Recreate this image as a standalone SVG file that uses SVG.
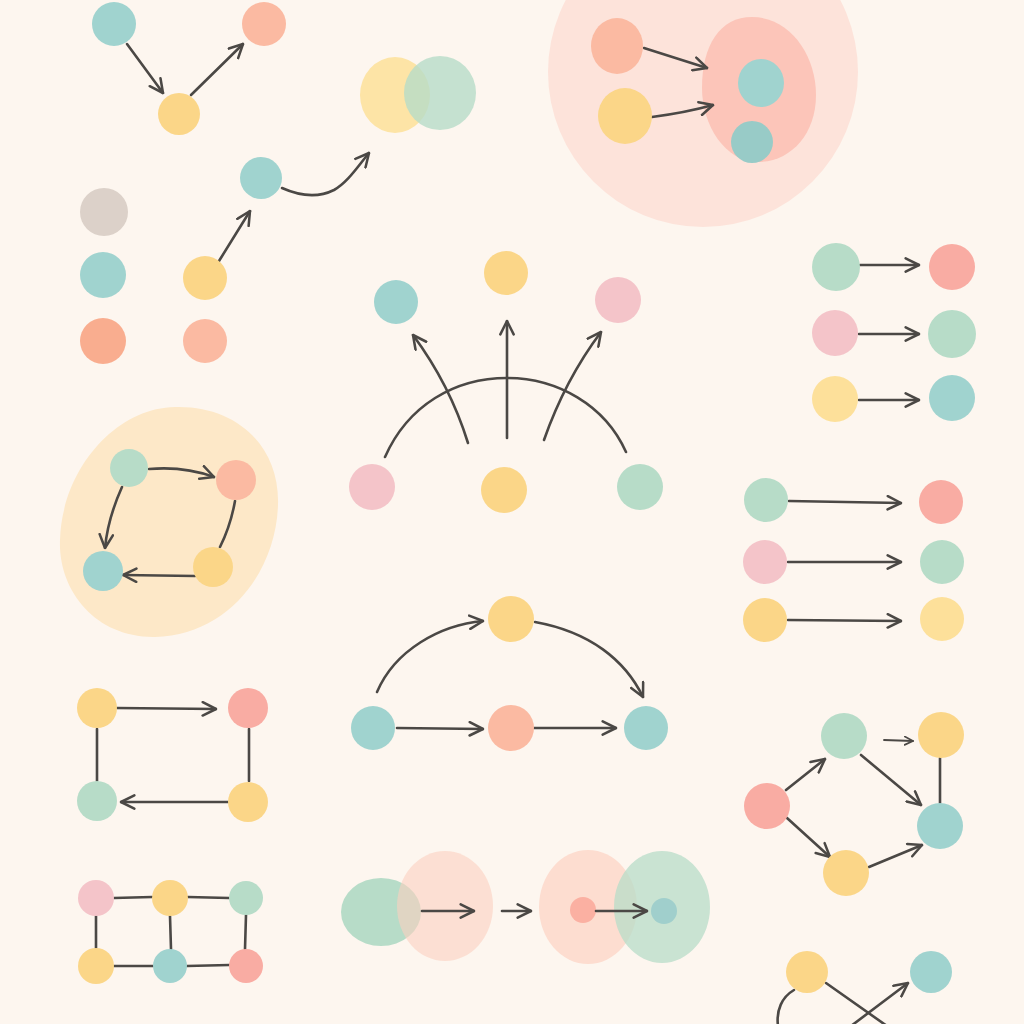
<svg xmlns="http://www.w3.org/2000/svg" width="1024" height="1024" viewBox="0 0 1024 1024">
<defs>
<marker id="ah" viewBox="0 0 12 12" refX="11" refY="6" markerUnits="userSpaceOnUse" markerWidth="16" markerHeight="16" orient="auto">
<path d="M1,1 L11,6 L1,11" fill="none" stroke="#4b4845" stroke-width="1.9" stroke-linecap="round" stroke-linejoin="round"/>
</marker>
<marker id="ahs" viewBox="0 0 12 12" refX="11" refY="6" markerUnits="userSpaceOnUse" markerWidth="10" markerHeight="10" orient="auto">
<path d="M1,1 L11,6 L1,11" fill="none" stroke="#4b4845" stroke-width="2" stroke-linecap="round" stroke-linejoin="round"/>
</marker>
</defs>
<style>
.teal{fill:#a0d3cf}
.salmon{fill:#fbbaa2}
.yellow{fill:#fbd688}
.green{fill:#b7dcc8}
.pink{fill:#f4c4c9}
.orange{fill:#f9ad8f}
.grey{fill:#dcd1c9}
.red{fill:#f9aca3}
.e{fill:none;stroke:#4b4845;stroke-width:2.6;stroke-linecap:round}
.a{marker-end:url(#ah)}
</style>
<rect width="1024" height="1024" fill="#fdf6ef"/>

<g id="cluster-backgrounds">
<ellipse cx="703" cy="72" rx="155" ry="155" fill="#fde3da"/>
<path d="M752,17 C790,17 816,55 816,95 C816,135 790,162 758,162 C725,162 702,125 702,88 C702,45 720,17 752,17 Z" fill="#fcc5b9"/>
<path d="M175,407 C235,405 280,445 278,505 C276,570 230,635 155,637 C95,638 58,590 60,540 C62,470 115,408 175,407 Z" fill="#fde8c8"/>
</g>

<g id="connectors">
<line class="e a" x1="127" y1="44" x2="163" y2="93"/>
<line class="e a" x1="191" y1="95" x2="243" y2="44"/>
<path class="e a" d="M282,188 C300,196 318,198 334,190 C348,182 358,166 369,153"/>
<line class="e a" x1="219" y1="261" x2="250" y2="211"/>
<line class="e a" x1="644" y1="48" x2="707" y2="68"/>
<path class="e a" d="M652,117 C675,114 695,110 713,105"/>
<line class="e a" x1="860" y1="265" x2="919" y2="265"/>
<line class="e a" x1="859" y1="334" x2="919" y2="334"/>
<line class="e a" x1="859" y1="400" x2="919" y2="400"/>
<path class="e" d="M385,457 C408,405 455,378 507,378 C557,378 605,405 626,452"/>
<path class="e a" d="M468,443 Q450,385 413,335"/>
<line class="e a" x1="507" y1="438" x2="507" y2="321"/>
<path class="e a" d="M544,440 Q565,380 601,332"/>
<path class="e a" d="M149,469 C172,467 195,470 214,477"/>
<path class="e" d="M235,501 C232,518 227,533 220,547"/>
<line class="e a" x1="195" y1="576" x2="123" y2="575"/>
<path class="e a" d="M122,487 C113,507 107,527 105,548"/>
<line class="e a" x1="117" y1="708" x2="216" y2="709"/>
<line class="e" x1="249" y1="729" x2="249" y2="781"/>
<line class="e a" x1="228" y1="802" x2="121" y2="802"/>
<line class="e" x1="97" y1="729" x2="97" y2="781"/>
<line class="e" x1="114" y1="898" x2="152" y2="897"/>
<line class="e" x1="188" y1="897" x2="229" y2="898"/>
<line class="e" x1="96" y1="916" x2="96" y2="948"/>
<line class="e" x1="170" y1="916" x2="171" y2="949"/>
<line class="e" x1="246" y1="915" x2="245" y2="949"/>
<line class="e" x1="114" y1="966" x2="153" y2="966"/>
<line class="e" x1="187" y1="966" x2="229" y2="965"/>
<path class="e a" d="M377,692 C395,650 440,625 483,621"/>
<path class="e a" d="M535,622 C590,632 625,660 643,697"/>
<line class="e a" x1="397" y1="728" x2="483" y2="729"/>
<line class="e a" x1="534" y1="728" x2="616" y2="728"/>
<line class="e a" x1="789" y1="501" x2="901" y2="503"/>
<line class="e a" x1="788" y1="562" x2="901" y2="562"/>
<line class="e a" x1="788" y1="620" x2="901" y2="621"/>
<line class="e a" x1="786" y1="790" x2="825" y2="759"/>
<line class="e a" x1="787" y1="818" x2="830" y2="857"/>
<line class="e a" x1="861" y1="755" x2="921" y2="805"/>
<line class="e a" x1="869" y1="867" x2="922" y2="845"/>
<line x1="884" y1="740" x2="913" y2="741" fill="none" stroke="#4b4845" stroke-width="1.8" stroke-linecap="round" marker-end="url(#ahs)"/>
<line class="e" x1="940" y1="758" x2="940" y2="803"/>
<path class="e" d="M794,990 C782,997 776,1010 778,1026"/>
<line class="e" x1="826" y1="983" x2="887" y2="1026"/>
<line class="e a" x1="851" y1="1026" x2="908" y2="983"/>
</g>

<g id="n-tl-teal"><circle class="teal" cx="114" cy="24" r="22"/></g>
<g id="n-tl-salmon"><circle class="salmon" cx="264" cy="24" r="22"/></g>
<g id="n-tl-yellow"><circle class="yellow" cx="179" cy="114" r="21"/></g>

<g id="n-venn-yellow"><ellipse cx="395" cy="95" rx="35" ry="38" fill="#fde4a6"/></g>
<g id="n-venn-green"><ellipse class="green" cx="440" cy="93" rx="36" ry="37" opacity="0.8"/></g>

<g id="n-curve-teal"><circle class="teal" cx="261" cy="178" r="21"/></g>
<g id="n-grey"><circle class="grey" cx="104" cy="212" r="24"/></g>
<g id="n-col-teal"><circle class="teal" cx="103" cy="275" r="23"/></g>
<g id="n-col-orange"><circle class="orange" cx="103" cy="341" r="23"/></g>
<g id="n-col2-yellow"><circle class="yellow" cx="205" cy="278" r="22"/></g>
<g id="n-col2-salmon"><circle class="salmon" cx="205" cy="341" r="22"/></g>

<g id="n-cl-salmon"><ellipse class="salmon" cx="617" cy="46" rx="26" ry="28"/></g>
<g id="n-cl-yellow"><ellipse class="yellow" cx="625" cy="116" rx="27" ry="28"/></g>
<g id="n-cl-teal1"><ellipse class="teal" cx="761" cy="83" rx="23" ry="24"/></g>
<g id="n-cl-teal2"><circle cx="752" cy="142" r="21" fill="#98cbc7"/></g>

<g id="n-r1-green"><circle class="green" cx="836" cy="267" r="24"/></g>
<g id="n-r1-red"><circle class="red" cx="952" cy="267" r="23"/></g>
<g id="n-r2-pink"><circle class="pink" cx="835" cy="333" r="23"/></g>
<g id="n-r2-green"><circle class="green" cx="952" cy="334" r="24"/></g>
<g id="n-r3-yellow"><circle cx="835" cy="399" r="23" fill="#fde09a"/></g>
<g id="n-r3-teal"><circle class="teal" cx="952" cy="398" r="23"/></g>

<g id="n-fan-teal"><circle class="teal" cx="396" cy="302" r="22"/></g>
<g id="n-fan-yellow-top"><circle class="yellow" cx="506" cy="273" r="22"/></g>
<g id="n-fan-pink-top"><circle class="pink" cx="618" cy="300" r="23"/></g>
<g id="n-fan-pink"><circle class="pink" cx="372" cy="487" r="23"/></g>
<g id="n-fan-yellow"><circle class="yellow" cx="504" cy="490" r="23"/></g>
<g id="n-fan-green"><circle class="green" cx="640" cy="487" r="23"/></g>

<g id="n-loop-green"><circle class="green" cx="129" cy="468" r="19"/></g>
<g id="n-loop-salmon"><circle class="salmon" cx="236" cy="480" r="20"/></g>
<g id="n-loop-teal"><circle class="teal" cx="103" cy="571" r="20"/></g>
<g id="n-loop-yellow"><circle class="yellow" cx="213" cy="567" r="20"/></g>

<g id="n-rect-yellow-tl"><circle class="yellow" cx="97" cy="708" r="20"/></g>
<g id="n-rect-red"><circle class="red" cx="248" cy="708" r="20"/></g>
<g id="n-rect-green"><circle class="green" cx="97" cy="801" r="20"/></g>
<g id="n-rect-yellow-br"><circle class="yellow" cx="248" cy="802" r="20"/></g>

<g id="n-grid-pink"><circle class="pink" cx="96" cy="898" r="18"/></g>
<g id="n-grid-yellow1"><circle class="yellow" cx="170" cy="898" r="18"/></g>
<g id="n-grid-green"><circle class="green" cx="246" cy="898" r="17"/></g>
<g id="n-grid-yellow2"><circle class="yellow" cx="96" cy="966" r="18"/></g>
<g id="n-grid-teal"><circle class="teal" cx="170" cy="966" r="17"/></g>
<g id="n-grid-red"><circle class="red" cx="246" cy="966" r="17"/></g>

<g id="n-flow-yellow"><circle class="yellow" cx="511" cy="619" r="23"/></g>
<g id="n-flow-teal-l"><circle class="teal" cx="373" cy="728" r="22"/></g>
<g id="n-flow-salmon"><circle class="salmon" cx="511" cy="728" r="23"/></g>
<g id="n-flow-teal-r"><circle class="teal" cx="646" cy="728" r="22"/></g>

<g id="n-rf1-green"><circle class="green" cx="766" cy="500" r="22"/></g>
<g id="n-rf1-red"><circle class="red" cx="941" cy="502" r="22"/></g>
<g id="n-rf2-pink"><circle class="pink" cx="765" cy="562" r="22"/></g>
<g id="n-rf2-green"><circle class="green" cx="942" cy="562" r="22"/></g>
<g id="n-rf3-yellow"><circle class="yellow" cx="765" cy="620" r="22"/></g>
<g id="n-rf3-yellow2"><circle cx="942" cy="619" r="22" fill="#fde09a"/></g>

<g id="n-g-salmon"><circle class="red" cx="767" cy="806" r="23"/></g>
<g id="n-g-green"><circle class="green" cx="844" cy="736" r="23"/></g>
<g id="n-g-yellow-tr"><circle class="yellow" cx="941" cy="735" r="23"/></g>
<g id="n-g-teal"><circle class="teal" cx="940" cy="826" r="23"/></g>
<g id="n-g-yellow-b"><circle class="yellow" cx="846" cy="873" r="23"/></g>

<g id="n-x-yellow"><circle class="yellow" cx="807" cy="972" r="21"/></g>
<g id="n-x-teal"><circle class="teal" cx="931" cy="972" r="21"/></g>

<g id="n-blob-green1"><ellipse class="green" cx="381" cy="912" rx="40" ry="34"/></g>
<g id="n-blob-salmon1"><ellipse cx="445" cy="906" rx="48" ry="55" fill="#fcd0bf" opacity="0.6"/></g>
<g id="n-blob-salmon2"><ellipse cx="588" cy="907" rx="49" ry="57" fill="#fdddd0"/></g>
<g id="n-blob-green2"><ellipse class="green" cx="662" cy="907" rx="48" ry="56" opacity="0.75"/></g>
<g id="n-small-red"><circle cx="583" cy="910" r="13" fill="#fbb0a2"/></g>
<g id="n-small-teal"><circle cx="664" cy="911" r="13" fill="#a0cfcc"/></g>

<g id="connectors-bottom">
<line class="e a" x1="422" y1="911" x2="474" y2="911"/>
<line class="e a" x1="502" y1="911" x2="531" y2="911"/>
<line class="e a" x1="596" y1="911" x2="647" y2="911"/>
</g>
</svg>
